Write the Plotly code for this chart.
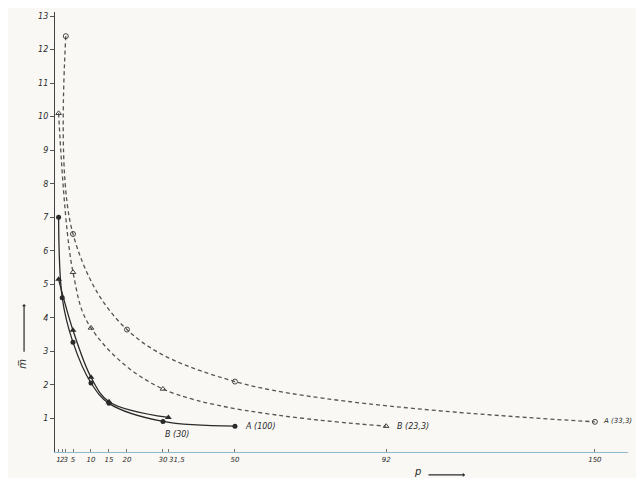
import plotly.graph_objects as go

# --- data ---
solid_A_x = [1, 2, 5, 10, 15, 30, 50]
solid_A_y = [7.0, 4.6, 3.27, 2.06, 1.45, 0.91, 0.77]

solid_B_x = [1, 5, 10, 15, 31.5]
solid_B_y = [5.15, 3.63, 2.23, 1.5, 1.03]

dashed_B_x = [1, 5, 10, 30, 92]
dashed_B_y = [10.1, 5.36, 3.7, 1.88, 0.77]

dashed_A_x = [3, 5, 20, 50, 150]
dashed_A_y = [12.4, 6.5, 3.65, 2.1, 0.9]

x_tickvals = [1, 2, 3, 5, 10, 15, 20, 30, 31.5, 50, 92, 150]
x_ticktext = ["1", "2", "3", "5", "10", "15", "20", "30", "", "50", "92", "150"]
x_extra_label = (31.5, "31,5")
y_tickvals = list(range(1, 14))

labels = [
    ("A (100)", 50, 0.77, "left", 8, 0, 8),
    ("B (30)", 30, 0.91, "left", 0, -13, 8),
    ("B (23,3)", 92, 0.77, "left", 9, 0, 8),
    ("A (33,3)", 150, 0.9, "left", 6, 1, 7),
]

ink = "#2a2a2a"
paper = "#f9f8f4"

fig = go.Figure()
fig.add_trace(go.Scatter(
    x=solid_A_x, y=solid_A_y, mode="lines+markers",
    line=dict(color=ink, width=1.3, shape="spline", smoothing=1.0),
    marker=dict(symbol="circle", size=5, color=ink),
))
fig.add_trace(go.Scatter(
    x=solid_B_x, y=solid_B_y, mode="lines+markers",
    line=dict(color=ink, width=1.3, shape="spline", smoothing=1.0),
    marker=dict(symbol="triangle-up", size=6, color=ink),
))
fig.add_trace(go.Scatter(
    x=dashed_B_x, y=dashed_B_y, mode="lines+markers",
    line=dict(color="#555555", width=1.3, dash="4px,3px", shape="spline", smoothing=1.0),
    marker=dict(symbol="triangle-up-open", size=5, color="#444444", line=dict(width=1)),
))
fig.add_trace(go.Scatter(
    x=dashed_A_x, y=dashed_A_y, mode="lines+markers",
    line=dict(color="#555555", width=1.3, dash="4px,3px", shape="spline", smoothing=1.0),
    marker=dict(symbol="circle-open", size=5, color="#444444", line=dict(width=1)),
))

for text, x, y, anchor, xs, ys, sz in labels:
    fig.add_annotation(x=x, y=y, xref="x", yref="y", text=text, showarrow=False,
                       xanchor=anchor, yanchor="middle", xshift=xs, yshift=ys,
                       font=dict(family="DejaVu Sans", size=sz, color=ink, style="italic"))

# second label of the close 30 / 31,5 tick pair
fig.add_annotation(x=x_extra_label[0], xref="x", yref="paper", y=-0.018,
                   text=x_extra_label[1], showarrow=False, xanchor="left",
                   yanchor="middle", xshift=-1,
                   font=dict(family="DejaVu Sans", size=7, color=ink, style="italic"))

# axis titles: p with arrow, m-bar with arrow
fig.add_annotation(xref="paper", yref="paper", x=0.632, y=-0.045, text="p",
                   showarrow=False, xanchor="center", yanchor="middle",
                   font=dict(family="DejaVu Sans", size=10, color=ink, style="italic"))
fig.add_annotation(xref="paper", yref="paper", x=0.7155, y=-0.052, ax=-38, ay=0,
                   text="", showarrow=True, arrowhead=1, arrowsize=0.6,
                   arrowwidth=1.2, arrowcolor=ink)
fig.add_annotation(xref="paper", yref="paper", x=-0.058, y=0.2, text="m\u0305",
                   showarrow=False, textangle=-90, xanchor="center", yanchor="middle",
                   font=dict(family="DejaVu Sans", size=10, color=ink, style="italic"))
fig.add_annotation(xref="paper", yref="paper", x=-0.054, y=0.336, ax=0, ay=49,
                   text="", showarrow=True, arrowhead=1, arrowsize=0.6,
                   arrowwidth=1.2, arrowcolor=ink)

fig.update_layout(
    width=628, height=470,
    margin=dict(l=47, r=8, t=4, b=26),
    paper_bgcolor=paper, plot_bgcolor=paper,
    showlegend=False,
    xaxis=dict(range=[0, 159.2], tickvals=x_tickvals, ticktext=x_ticktext,
               tickangle=0, showgrid=False, zeroline=False,
               showline=True, linecolor="#8fb8cc", linewidth=1.2,
               ticks="inside", ticklen=3, tickcolor="#777777",
               tickfont=dict(family="DejaVu Sans", size=7, color=ink, style="italic")),
    yaxis=dict(range=[0, 13.12], tickvals=y_tickvals, showgrid=False, zeroline=False,
               showline=True, linecolor="#444444", linewidth=1.2,
               ticks="outside", ticklen=4, tickcolor="#555555",
               tickfont=dict(family="DejaVu Sans", size=8, color=ink, style="italic")),
)

fig.write_html("out.html")
